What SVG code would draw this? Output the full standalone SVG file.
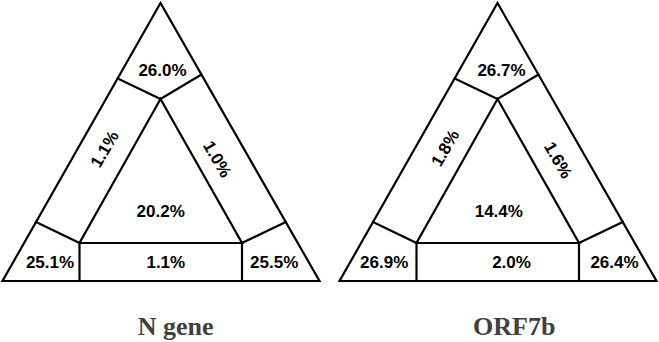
<svg xmlns="http://www.w3.org/2000/svg" width="659" height="342" viewBox="0 0 659 342">
<style>
.ln{fill:none;stroke:#000;stroke-width:2.2;stroke-linejoin:miter;stroke-linecap:square}
.v{font-family:"Liberation Sans",Arial,sans-serif;font-weight:bold;font-size:17px;fill:#000;text-anchor:middle}
.t{font-family:"Liberation Serif","Times New Roman",serif;font-weight:bold;font-size:26px;fill:#404040;text-anchor:middle}
</style>
<rect width="659" height="342" fill="#fff"/>
<g id="n-gene">
  <g id="n-gene-lines">
    <polygon class="ln" points="160.5,3 2.5,281 319.5,281"/>
    <polygon class="ln" points="160.5,99 79.5,243 242,243"/>
    <polyline class="ln" points="117.7,78.5 160.5,99 201.4,74.5"/>
    <polyline class="ln" points="36,222 79.5,243 79.5,281"/>
    <polyline class="ln" points="285.8,222 242,243 242,281"/>
  </g>
  <text class="v" x="162.5" y="76">26.0%</text>
  <text class="v" transform="translate(109.5,152) rotate(-60)">1.1%</text>
  <text class="v" transform="translate(212.3,162) rotate(60)">1.0%</text>
  <text class="v" x="160.7" y="216.5">20.2%</text>
  <text class="v" x="50" y="268.3">25.1%</text>
  <text class="v" x="165.8" y="268.3">1.1%</text>
  <text class="v" x="274.2" y="268.3">25.5%</text>
  <text class="t" x="175.7" y="335">N gene</text>
</g>
<g id="orf7b">
  <g id="orf7b-lines">
    <polygon class="ln" points="497.5,3 339.5,281 656.5,281"/>
    <polygon class="ln" points="497.5,99 416.5,243 579,243"/>
    <polyline class="ln" points="454.7,78.5 497.5,99 538.4,74.5"/>
    <polyline class="ln" points="373,222 416.5,243 416.5,281"/>
    <polyline class="ln" points="622.8,222 579,243 579,281"/>
  </g>
  <text class="v" x="501.5" y="76">26.7%</text>
  <text class="v" transform="translate(450.2,151) rotate(-60)">1.8%</text>
  <text class="v" transform="translate(553.1,163) rotate(60)">1.6%</text>
  <text class="v" x="498.8" y="216.5">14.4%</text>
  <text class="v" x="384.2" y="268.3">26.9%</text>
  <text class="v" x="511.5" y="268.3">2.0%</text>
  <text class="v" x="614.5" y="268.3">26.4%</text>
  <text class="t" x="514.2" y="335">ORF7b</text>
</g>
</svg>
